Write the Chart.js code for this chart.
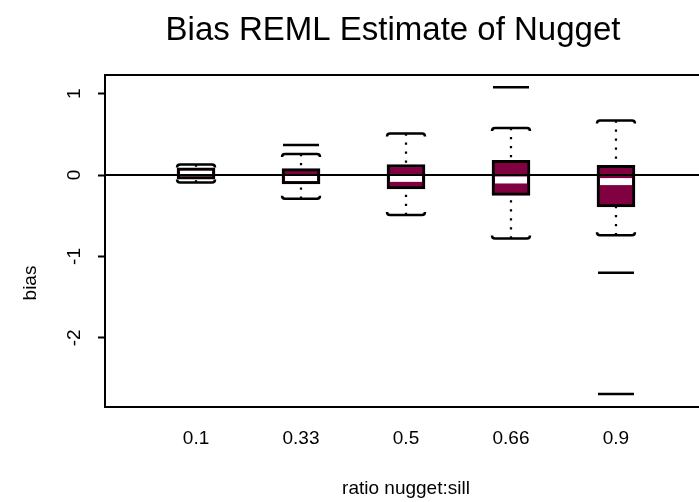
<!DOCTYPE html>
<html>
<head>
<meta charset="utf-8">
<script src="https://cdn.jsdelivr.net/npm/chart.js@4/dist/chart.umd.min.js"></script>
<style>
  html, body { margin: 0; padding: 0; background: #fff; overflow: hidden; width: 699px; height: 502px; }
  #wrap { position: relative; width: 720px; height: 502px; }
</style>
</head>
<body>
<div id="wrap"><canvas id="c" width="720" height="502"></canvas></div>
<script>
// Groups: nugget-to-sill ratio
const categories = ['0.1', '0.33', '0.5', '0.66', '0.9'];
const positions = [1, 2, 3, 4, 5];

// Five-number summaries of the REML nugget bias for each ratio
const whiskerLow  = [-0.09, -0.29, -0.49, -0.78, -0.74];
const lowerQuart  = [-0.05, -0.11, -0.17, -0.25, -0.39];
const medians     = [ 0.03, -0.03, -0.04, -0.06, -0.08];
const upperQuart  = [ 0.09,  0.08,  0.13,  0.18,  0.12];
const whiskerHigh = [ 0.13,  0.26,  0.51,  0.58,  0.67];
const outliers    = [[], [0.37], [], [1.08], [-1.2, -2.69]];

const yTicks = [-2, -1, 0, 1];

const FONT = '"Liberation Sans", Arial, Helvetica, sans-serif';
const BOX_W = 38;

function staple(ctx, cx, py, dir) {
  // whisker end cap with slightly hooked ends (dir 1 = top cap, -1 = bottom cap)
  const h = BOX_W / 2, k = 3 * dir;
  ctx.beginPath();
  ctx.moveTo(cx - h, py + k);
  ctx.quadraticCurveTo(cx - h, py, cx - h + 3, py);
  ctx.lineTo(cx + h - 3, py);
  ctx.quadraticCurveTo(cx + h, py, cx + h, py + k);
  ctx.stroke();
}

const boxExtras = {
  id: 'boxExtras',
  beforeDatasetsDraw(chart) {
    const { ctx, scales: { x, y } } = chart;
    ctx.save();
    ctx.strokeStyle = '#000';
    ctx.lineWidth = 2.25;
    ctx.setLineDash([2.25, 6.75]);
    positions.forEach((p, i) => {
      const cx = x.getPixelForValue(p);
      ctx.beginPath();
      ctx.moveTo(cx, y.getPixelForValue(whiskerHigh[i]));
      ctx.lineTo(cx, y.getPixelForValue(upperQuart[i]));
      ctx.stroke();
      ctx.beginPath();
      ctx.moveTo(cx, y.getPixelForValue(whiskerLow[i]));
      ctx.lineTo(cx, y.getPixelForValue(lowerQuart[i]));
      ctx.stroke();
    });
    ctx.restore();
  },
  afterDatasetsDraw(chart) {
    const { ctx, chartArea: a, scales: { x, y } } = chart;
    ctx.save();
    ctx.beginPath();
    ctx.rect(a.left, a.top, a.right - a.left, a.bottom - a.top);
    ctx.clip();
    positions.forEach((p, i) => {
      const cx = x.getPixelForValue(p);
      // median band, kept inside the box outline
      const top = y.getPixelForValue(upperQuart[i]) + 3;
      const bot = y.getPixelForValue(lowerQuart[i]) - 3;
      const ym = y.getPixelForValue(medians[i]);
      const t = Math.max(top, ym - 3.5), b = Math.min(bot, ym + 3.5);
      ctx.fillStyle = '#fff';
      if (b > t) ctx.fillRect(cx - BOX_W / 2 + 3, t, BOX_W - 6, b - t);
      // caps
      ctx.strokeStyle = '#000';
      ctx.lineWidth = 2.5;
      staple(ctx, cx, y.getPixelForValue(whiskerHigh[i]), 1);
      staple(ctx, cx, y.getPixelForValue(whiskerLow[i]), -1);
      // outlying values
      outliers[i].forEach(v => {
        const py = y.getPixelForValue(v);
        ctx.beginPath();
        ctx.moveTo(cx - 18, py);
        ctx.lineTo(cx + 18, py);
        ctx.stroke();
      });
    });
    // reference line at zero bias
    const y0 = y.getPixelForValue(0);
    ctx.lineWidth = 2;
    ctx.beginPath();
    ctx.moveTo(a.left, y0);
    ctx.lineTo(a.right, y0);
    ctx.stroke();
    ctx.restore();

    // plot frame
    ctx.save();
    ctx.strokeStyle = '#000';
    ctx.lineWidth = 2;
    ctx.strokeRect(a.left, a.top, a.right - a.left, a.bottom - a.top);
    ctx.restore();
  },
  afterDraw(chart) {
    const { ctx, chartArea: a, scales: { y } } = chart;
    ctx.save();
    ctx.fillStyle = '#000';
    // y tick labels, parallel to the axis
    ctx.font = '19px ' + FONT;
    ctx.textAlign = 'center';
    ctx.textBaseline = 'middle';
    yTicks.forEach(v => {
      ctx.save();
      ctx.translate(75, y.getPixelForValue(v));
      ctx.rotate(-Math.PI / 2);
      ctx.fillText(String(v), 0, 0);
      ctx.restore();
    });
    // y axis title
    ctx.save();
    ctx.translate(31, 283);
    ctx.rotate(-Math.PI / 2);
    ctx.fillText('bias', 0, 0);
    ctx.restore();
    // x axis title
    ctx.fillText('ratio nugget:sill', (a.left + a.right) / 2, 489);
    // main title
    ctx.font = '33px ' + FONT;
    ctx.fillText('Bias REML Estimate of Nugget', 393, 31);
    ctx.restore();
  }
};

new Chart(document.getElementById('c'), {
  type: 'bar',
  data: {
    datasets: [{
      data: positions.map((p, i) => ({ x: p, y: [lowerQuart[i], upperQuart[i]] })),
      backgroundColor: '#800040',
      borderColor: '#000',
      borderWidth: 3,
      borderSkipped: false,
      barThickness: BOX_W
    }]
  },
  options: {
    responsive: false,
    animation: false,
    devicePixelRatio: 1,
    layout: { padding: { top: 75, right: 13, bottom: 0, left: 0 } },
    plugins: { legend: { display: false }, tooltip: { enabled: false }, title: { display: false } },
    scales: {
      x: {
        type: 'linear',
        offset: false,
        min: 0.133,
        max: 5.867,
        afterBuildTicks: s => { s.ticks = positions.map(v => ({ value: v })); },
        afterFit: s => { s.height = 95; },
        grid: { display: false, drawTicks: false, offset: false },
        border: { display: false },
        ticks: {
          padding: 20,
          maxRotation: 0,
          autoSkip: false,
          color: '#000',
          font: { family: FONT, size: 19 },
          callback: v => categories[positions.indexOf(v)]
        }
      },
      y: {
        min: -2.85,
        max: 1.23,
        afterBuildTicks: s => { s.ticks = yTicks.map(v => ({ value: v })); },
        afterFit: s => { s.width = 105; },
        grid: { display: true, drawOnChartArea: false, drawTicks: true, tickLength: 7, tickWidth: 2, tickColor: '#000' },
        border: { display: false },
        ticks: { display: false }
      }
    }
  },
  plugins: [boxExtras]
});
</script>
</body>
</html>
